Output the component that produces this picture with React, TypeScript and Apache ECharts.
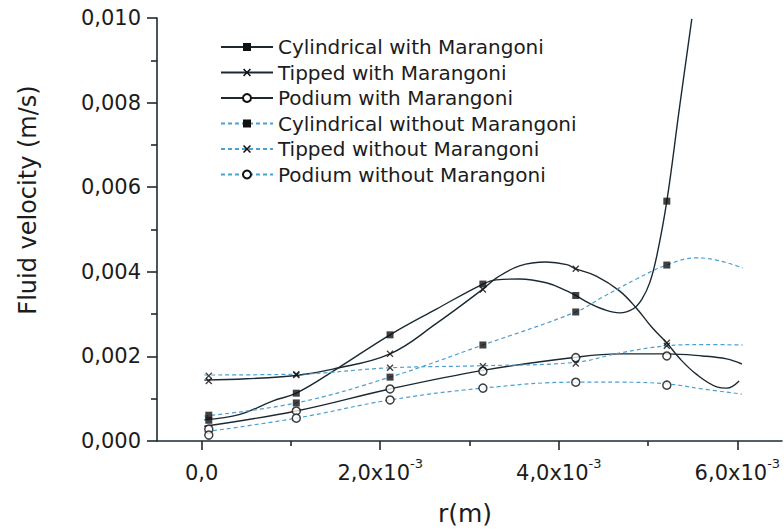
import React, { useEffect, useRef } from "react";
import * as echarts from "echarts";

// ---- data (r in m, velocity in m/s) ----
const seriesNames = [
  "Cylindrical with Marangoni",
  "Tipped with Marangoni",
  "Podium with Marangoni",
  "Cylindrical without Marangoni",
  "Tipped without Marangoni",
  "Podium without Marangoni",
];

// measured points (markers)
const rValues = [0.08e-3, 1.06e-3, 2.11e-3, 3.15e-3, 4.19e-3, 5.21e-3];
const cylWith = [0.49e-3, 1.13e-3, 2.51e-3, 3.71e-3, 3.44e-3, 5.67e-3];
const tipWith = [1.42e-3, 1.56e-3, 2.06e-3, 3.58e-3, 4.07e-3, 2.32e-3];
const podWith = [0.28e-3, 0.71e-3, 1.23e-3, 1.65e-3, 1.97e-3, 2.01e-3];
const cylWithout = [0.61e-3, 0.9e-3, 1.51e-3, 2.27e-3, 3.05e-3, 4.16e-3];
const tipWithout = [1.54e-3, 1.58e-3, 1.73e-3, 1.77e-3, 1.83e-3, 2.25e-3];
const podWithout = [0.14e-3, 0.54e-3, 0.97e-3, 1.25e-3, 1.39e-3, 1.32e-3];

// fitted curves
const cylWithCurveR = [0.03e-3, 0.43e-3, 0.8e-3, 1.06e-3, 1.51e-3, 2.11e-3, 2.63e-3, 3.15e-3, 3.3e-3, 3.56e-3, 3.86e-3, 4.09e-3, 4.19e-3, 4.34e-3, 4.49e-3, 4.68e-3, 4.83e-3, 4.93e-3, 5.02e-3, 5.1e-3, 5.21e-3, 5.35e-3, 5.49e-3];
const cylWithCurveV = [0.5e-3, 0.63e-3, 0.95e-3, 1.13e-3, 1.7e-3, 2.51e-3, 3.12e-3, 3.71e-3, 3.81e-3, 3.83e-3, 3.74e-3, 3.55e-3, 3.44e-3, 3.26e-3, 3.12e-3, 3.03e-3, 3.12e-3, 3.35e-3, 3.75e-3, 4.4e-3, 5.67e-3, 7.85e-3, 9.98e-3];

const tipWithCurveR = [0.03e-3, 0.5e-3, 1.06e-3, 1.47e-3, 2.11e-3, 2.63e-3, 3.15e-3, 3.3e-3, 3.56e-3, 3.86e-3, 4.09e-3, 4.19e-3, 4.42e-3, 4.68e-3, 4.87e-3, 5.05e-3, 5.21e-3, 5.35e-3, 5.54e-3, 5.77e-3, 5.88e-3, 6.02e-3];
const tipWithCurveV = [1.44e-3, 1.47e-3, 1.55e-3, 1.7e-3, 2.06e-3, 2.78e-3, 3.59e-3, 3.85e-3, 4.14e-3, 4.23e-3, 4.17e-3, 4.07e-3, 3.9e-3, 3.55e-3, 3.14e-3, 2.67e-3, 2.32e-3, 1.96e-3, 1.58e-3, 1.28e-3, 1.25e-3, 1.42e-3];

const podWithCurveR = [0.03e-3, 1.06e-3, 2.11e-3, 3.15e-3, 4.19e-3, 4.68e-3, 5.21e-3, 5.61e-3, 5.88e-3, 6.05e-3];
const podWithCurveV = [0.35e-3, 0.71e-3, 1.23e-3, 1.67e-3, 1.98e-3, 2.06e-3, 2.06e-3, 2.01e-3, 1.94e-3, 1.82e-3];

const cylWithoutCurveR = [0.03e-3, 1.06e-3, 2.11e-3, 3.15e-3, 4.19e-3, 4.49e-3, 4.87e-3, 5.21e-3, 5.54e-3, 5.8e-3, 6.06e-3];
const cylWithoutCurveV = [0.59e-3, 0.9e-3, 1.51e-3, 2.27e-3, 3.05e-3, 3.4e-3, 3.83e-3, 4.16e-3, 4.33e-3, 4.26e-3, 4.09e-3];

const tipWithoutCurveR = [0.03e-3, 1.06e-3, 2.11e-3, 3.15e-3, 4.19e-3, 4.68e-3, 5.21e-3, 5.6e-3, 6.06e-3];
const tipWithoutCurveV = [1.56e-3, 1.58e-3, 1.73e-3, 1.78e-3, 1.86e-3, 2.08e-3, 2.25e-3, 2.28e-3, 2.27e-3];

const podWithoutCurveR = [0.05e-3, 1.06e-3, 2.11e-3, 3.15e-3, 4.19e-3, 4.68e-3, 5.21e-3, 5.61e-3, 6.05e-3];
const podWithoutCurveV = [0.22e-3, 0.54e-3, 0.97e-3, 1.25e-3, 1.39e-3, 1.39e-3, 1.35e-3, 1.23e-3, 1.11e-3];

const xMajorTicks = [0, 0.002, 0.004, 0.006];
const xMinorTicks = [0.001, 0.003, 0.005];

const FONT = "DejaVu Sans";
const TEXT = "#1c1c1c";
const AXIS = "#1e2a30";
const SOLID = "#1b2a32";
const DASHED = "#4b9fd2";
const X_PATH = "path://M0,1.4L1.4,0L5,3.6L8.6,0L10,1.4L6.4,5L10,8.6L8.6,10L5,6.4L1.4,10L0,8.6L3.6,5Z";

const pair = (xs: number[], ys: number[]) => xs.map((x, i) => [x, ys[i]]);

export default function App() {
  const ref = useRef<HTMLDivElement>(null);
  useEffect(() => {
    if (!ref.current) return;
    const chart = echarts.init(ref.current, undefined, { renderer: "svg" });

    const defs = [
      { name: seriesNames[0], curve: pair(cylWithCurveR, cylWithCurveV), pts: pair(rValues, cylWith), symbol: "rect", size: 7, dashed: false, hollow: false },
      { name: seriesNames[1], curve: pair(tipWithCurveR, tipWithCurveV), pts: pair(rValues, tipWith), symbol: X_PATH, size: 7, dashed: false, hollow: false },
      { name: seriesNames[2], curve: pair(podWithCurveR, podWithCurveV), pts: pair(rValues, podWith), symbol: "circle", size: 8, dashed: false, hollow: true },
      { name: seriesNames[3], curve: pair(cylWithoutCurveR, cylWithoutCurveV), pts: pair(rValues, cylWithout), symbol: "rect", size: 7, dashed: true, hollow: false },
      { name: seriesNames[4], curve: pair(tipWithoutCurveR, tipWithoutCurveV), pts: pair(rValues, tipWithout), symbol: X_PATH, size: 7, dashed: true, hollow: false },
      { name: seriesNames[5], curve: pair(podWithoutCurveR, podWithoutCurveV), pts: pair(rValues, podWithout), symbol: "circle", size: 8, dashed: true, hollow: true },
    ];

    const series: any[] = [];
    defs.forEach((d) => {
      const itemStyle = d.hollow
        ? { color: "#ffffff", borderColor: "#111", borderWidth: 1.5 }
        : { color: "#111", borderWidth: 0 };
      series.push({
        name: d.name,
        type: "line",
        data: d.curve,
        smooth: 0.4,
        showSymbol: false,
        symbol: d.symbol,
        symbolSize: d.size,
        lineStyle: d.dashed
          ? { color: DASHED, width: 1.2, type: [4, 3] }
          : { color: SOLID, width: 1.4, type: "solid" },
        itemStyle,
        z: 2,
        silent: true,
      });
    });
    defs.forEach((d) => {
      const itemStyle = d.hollow
        ? { color: "#ffffff", borderColor: "#111", borderWidth: 1.5 }
        : { color: "#111", borderWidth: 0 };
      series.push({
        name: d.name + " (data)",
        type: "scatter",
        data: d.pts,
        symbol: d.symbol,
        symbolSize: d.size,
        itemStyle,
        z: 3,
        silent: true,
      });
    });

    const xLabel = (v: number) => {
      if (Math.abs(v) < 1e-12) return "{a|0,0}";
      return "{a|" + (v * 1000).toFixed(1).replace(".", ",") + "x10}{b|-3}";
    };

    chart.setOption({
      animation: false,
      backgroundColor: "#ffffff",
      textStyle: { fontFamily: FONT },
      grid: { left: 157, right: 2, top: 18, bottom: 89, containLabel: false },
      legend: {
        data: seriesNames,
        orient: "vertical",
        left: 215,
        top: 32,
        itemWidth: 52,
        itemHeight: 10,
        itemGap: 5.5,
        selectedMode: false,
        textStyle: { fontFamily: FONT, fontSize: 20, color: TEXT },
      },
      xAxis: [
        {
          type: "value",
          min: -0.0005,
          max: 0.0065,
          position: "bottom",
          axisLine: { show: true, onZero: false, lineStyle: { color: AXIS, width: 1.6 } },
          axisTick: { show: true, inside: false, length: 9, customValues: xMajorTicks, lineStyle: { color: AXIS, width: 1.6 } },
          axisLabel: {
            show: true,
            customValues: xMajorTicks,
            margin: 16,
            formatter: xLabel,
            color: TEXT,
            rich: {
              a: { fontFamily: FONT, fontSize: 21, color: TEXT, verticalAlign: "bottom", lineHeight: 26 },
              b: { fontFamily: FONT, fontSize: 13, color: TEXT, verticalAlign: "top", lineHeight: 26 },
            },
          },
          splitLine: { show: false },
        },
        {
          type: "value",
          min: -0.0005,
          max: 0.0065,
          position: "bottom",
          offset: 0,
          axisLine: { show: false },
          axisTick: { show: true, inside: false, length: 5, customValues: xMinorTicks, lineStyle: { color: AXIS, width: 1.6 } },
          axisLabel: { show: false },
          splitLine: { show: false },
        },
      ],
      yAxis: {
        type: "value",
        min: 0,
        max: 0.01,
        interval: 0.002,
        axisLine: { show: true, onZero: false, lineStyle: { color: AXIS, width: 1.6 } },
        axisTick: { show: true, inside: false, length: 10, lineStyle: { color: AXIS, width: 1.6 } },
        minorTick: { show: true, splitNumber: 2, length: 6, lineStyle: { color: AXIS, width: 1.6 } },
        minorSplitLine: { show: false },
        splitLine: { show: false },
        axisLabel: {
          margin: 16,
          fontFamily: FONT,
          fontSize: 21,
          color: TEXT,
          formatter: (v: number) => v.toFixed(3).replace(".", ","),
        },
      },
      graphic: [
        {
          type: "text",
          x: 28,
          y: 200,
          rotation: Math.PI / 2,
          style: {
            text: "Fluid velocity (m/s)",
            font: "24px '" + FONT + "'",
            fill: TEXT,
            align: "center",
            verticalAlign: "middle",
            textAlign: "center",
            textVerticalAlign: "middle",
          },
        },
        {
          type: "text",
          x: 465,
          y: 513,
          style: {
            text: "r(m)",
            font: "25px '" + FONT + "'",
            fill: TEXT,
            align: "center",
            verticalAlign: "middle",
            textAlign: "center",
            textVerticalAlign: "middle",
          },
        },
      ],
      series,
    });

    return () => chart.dispose();
  }, []);

  return (
    <div
      ref={ref}
      style={{ position: "absolute", left: 0, top: 0, width: 784, height: 530, background: "#fff" }}
    />
  );
}
